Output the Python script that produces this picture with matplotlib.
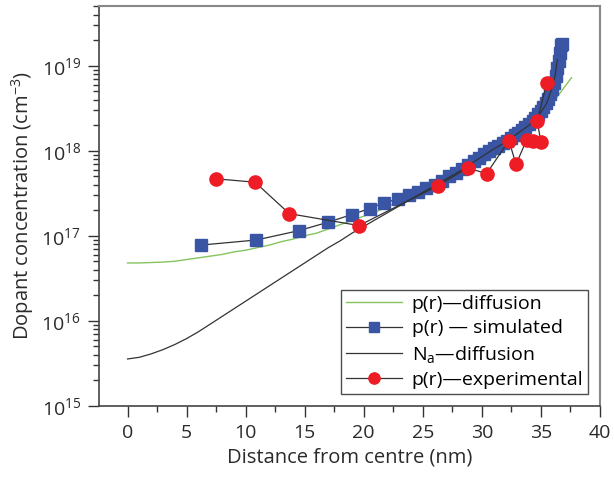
import numpy as np
import matplotlib
matplotlib.use("Agg")
import matplotlib.pyplot as plt
from matplotlib.ticker import LogLocator, MultipleLocator, LogFormatterSciNotation

plt.rcParams['font.family'] = ['Open Sans', 'DejaVu Sans']
plt.rcParams['mathtext.fontset'] = 'custom'
plt.rcParams['mathtext.rm'] = 'Open Sans'
plt.rcParams['mathtext.it'] = 'Open Sans:italic'
plt.rcParams['mathtext.default'] = 'regular'

# p(r) from the diffusion model (log10 of concentration)
diff_r = [0, 1, 2, 3, 4, 5, 6, 7, 8, 9, 10, 11, 12, 13, 14, 15, 16, 17, 18, 19, 20,
          21, 22, 23, 24, 25, 26, 27, 28, 29, 30, 31, 32, 33, 34, 35, 36, 37, 37.6]
diff_p = [16.68, 16.68, 16.685, 16.69, 16.70, 16.72, 16.74, 16.76, 16.78, 16.81, 16.83,
          16.86, 16.89, 16.93, 16.96, 17.00, 17.03, 17.08, 17.13, 17.18, 17.23, 17.28,
          17.34, 17.40, 17.46, 17.51, 17.57, 17.63, 17.70, 17.77, 17.85, 17.93, 18.02,
          18.12, 18.24, 18.38, 18.56, 18.75, 18.86]

# acceptor profile Na from the diffusion model
na_r = [0, 1, 2, 3, 4, 5, 6, 7, 8, 9, 10, 11, 12, 13, 14, 15, 16, 17, 18, 19, 20,
        21, 22, 23, 24, 25, 26, 27, 28, 29, 30, 31, 32, 33, 34, 35, 35.5, 35.9, 36.2, 36.4]
na_p = [15.55, 15.57, 15.61, 15.66, 15.72, 15.79, 15.87, 15.96, 16.05, 16.14, 16.23,
        16.32, 16.41, 16.50, 16.59, 16.68, 16.77, 16.86, 16.94, 17.03, 17.11, 17.19,
        17.27, 17.35, 17.43, 17.51, 17.59, 17.67, 17.75, 17.84, 17.93, 18.02, 18.10,
        18.20, 18.30, 18.45, 18.56, 18.72, 18.88, 19.07]

# simulated hole concentration
sim_r = [6.2, 10.9, 14.5, 17.0, 19.0, 20.5, 21.7, 22.9, 23.8, 24.6, 25.3, 26.0, 26.6,
         27.2, 27.8, 28.3, 28.8, 29.3, 29.8, 30.2, 30.6, 31.0, 31.4, 31.8, 32.1, 32.5,
         32.8, 33.1, 33.4, 33.7, 34.0, 34.3, 34.5, 34.8, 35.0, 35.2, 35.4, 35.6, 35.8,
         35.95, 36.1, 36.25, 36.4, 36.5, 36.6, 36.7, 36.75]
sim_p = [16.89, 16.95, 17.06, 17.16, 17.25, 17.32, 17.39, 17.43, 17.48, 17.52, 17.56,
         17.60, 17.65, 17.70, 17.74, 17.79, 17.83, 17.88, 17.92, 17.96, 18.00, 18.03,
         18.06, 18.09, 18.12, 18.15, 18.18, 18.21, 18.24, 18.28, 18.31, 18.35, 18.38,
         18.43, 18.47, 18.51, 18.56, 18.61, 18.67, 18.73, 18.80, 18.88, 18.97, 19.06,
         19.15, 19.24, 19.26]

# experimental hole concentration
exp_r = [7.5, 10.8, 13.7, 19.6, 26.3, 28.8, 30.4, 32.3, 32.9, 33.8, 34.3, 35.0, 34.7, 35.5]
exp_p = [17.67, 17.63, 17.26, 17.12, 17.59, 17.80, 17.73, 18.12, 17.84, 18.13, 18.11,
         18.10, 18.35, 18.80]

green = '#85c55e'
blue = '#3a55a4'
red = '#ee1c25'
dark = '#333333'

fig = plt.figure(figsize=(6.14, 4.83), dpi=100)
ax = fig.add_axes([0.161, 0.160, 0.816, 0.828])

ax.plot(diff_r, 10 ** np.array(diff_p), color=green, lw=1.0, label='p(r)—diffusion', zorder=2)
ax.plot(sim_r, 10 ** np.array(sim_p), color=dark, lw=0.9, marker='s', ms=8.5,
        mfc=blue, mec=blue, label='p(r) — simulated', zorder=3)
ax.plot(na_r, 10 ** np.array(na_p), color=dark, lw=0.9, label='N$_{a}$—diffusion', zorder=4)
ax.plot(exp_r, 10 ** np.array(exp_p), color=dark, lw=0.9, marker='o', ms=9.5,
        mfc=red, mec=red, label='p(r)—experimental', zorder=5)

ax.set_yscale('log')
ax.set_xlim(-2.43, 40)
ax.set_ylim(1e15, 10 ** 19.706)
ax.xaxis.set_major_locator(MultipleLocator(5))
ax.xaxis.set_minor_locator(MultipleLocator(2.5))
ax.yaxis.set_major_locator(LogLocator(base=10, numticks=10))
ax.yaxis.set_minor_locator(LogLocator(base=10, subs=np.arange(2, 10), numticks=20))
ax.yaxis.set_major_formatter(LogFormatterSciNotation())

ax.tick_params(which='major', direction='out', length=8, width=1.0, color=dark,
               labelsize=14, labelcolor='#2a2a2a', pad=5)
ax.tick_params(which='minor', direction='out', length=4, width=1.0, color=dark)
ax.tick_params(top=False, right=False)

for side in ['top', 'right']:
    ax.spines[side].set_color('#888888')
    ax.spines[side].set_linewidth(1.5)
for side in ['left', 'bottom']:
    ax.spines[side].set_color('#444444')
    ax.spines[side].set_linewidth(1.2)

ax.set_xlabel('Distance from centre (nm)', fontsize=14.5, color='#2a2a2a')
ax.set_ylabel('Dopant concentration (cm$^{-3}$)', fontsize=14.5, color='#2a2a2a')

leg = ax.legend(loc='lower right', fontsize=14, frameon=True, fancybox=False,
                edgecolor='#222222', handlelength=2.9, handletextpad=0.5,
                borderpad=0.25, labelspacing=0.33, borderaxespad=0.6, markerscale=0.85)
leg.get_frame().set_linewidth(1.0)

fig.savefig('out.png', dpi=100)
